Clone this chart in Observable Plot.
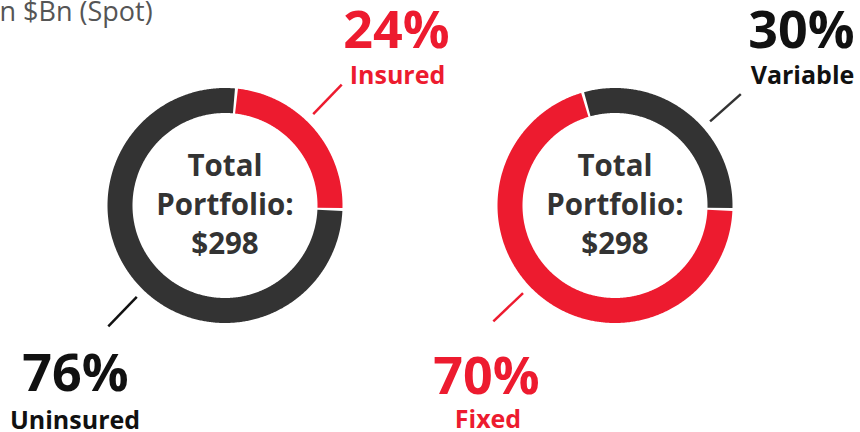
<!DOCTYPE html>
<html>
<head>
<meta charset="utf-8">
<script src="https://cdn.jsdelivr.net/npm/d3@7"></script>
<script src="https://cdn.jsdelivr.net/npm/@observablehq/plot@0.6"></script>
<style>
  html, body { margin: 0; padding: 0; background: #fff; }
  #chart { width: 860px; height: 432px; overflow: hidden; }
</style>
</head>
<body>
<div id="chart"></div>
<script>
// ---------- data ----------
const titleText = "n $Bn (Spot)";
const totalText = ["Total", "Portfolio:", "$298"];
const leftCategories = ["Insured", "Uninsured"];
const leftValues = [24, 76];
const rightCategories = ["Variable", "Fixed"];
const rightValues = [30, 70];

// ---------- layout & style (not data) ----------
const RED = "#ED1B2F", DARK = "#333333", BLACK = "#111111";
const W = 860, H = 432;
const ringMid = 105, ringWidth = 25, padDeg = 0.7;
const donutLayout = [
  {cx: 224.5, cy: 205, start: 5.6, cats: leftCategories, vals: leftValues,
   colors: [RED, DARK], textColors: [RED, BLACK], leaderColors: [RED, BLACK],
   leaderAngles: [44, 224],
   pctPos: [[396, 47], [75, 390]], namePos: [[397, 83], [74.5, 428]]},
  {cx: 614.5, cy: 205, start: -16, cats: rightCategories, vals: rightValues,
   colors: [DARK, RED], textColors: [BLACK, RED], leaderColors: [DARK, RED],
   leaderAngles: [48.5, 226.4],
   pctPos: [[801, 47], [486, 393]], namePos: [[802, 83], [487.5, 427]]}
];
const leaderR = [127, 168];

// ---------- build tables ----------
const rad = d => d * Math.PI / 180;
const arcPts = [], leaders = [], pctLabels = [], nameLabels = [], centers = [];
donutLayout.forEach((d, di) => {
  const total = d3.sum(d.vals);
  let a = d.start;
  d.vals.forEach((v, i) => {
    const span = v / total * 360;
    const a0 = a + padDeg, a1 = a + span - padDeg;
    const n = Math.ceil((a1 - a0) / 0.5);
    for (let k = 0; k <= n; k++) {
      const t = rad(a0 + (a1 - a0) * k / n);
      arcPts.push({seg: `${di}-${i}`, color: d.colors[i],
        x: d.cx + ringMid * Math.sin(t), y: d.cy - ringMid * Math.cos(t)});
    }
    a += span;
    const la = rad(d.leaderAngles[i]);
    leaderR.forEach(r => leaders.push({seg: `${di}-${i}`, color: d.leaderColors[i],
      x: d.cx + r * Math.sin(la), y: d.cy - r * Math.cos(la)}));
    pctLabels.push({x: d.pctPos[i][0], y: d.pctPos[i][1], text: `${v}%`, color: d.textColors[i]});
    nameLabels.push({x: d.namePos[i][0], y: d.namePos[i][1], text: d.cats[i], color: d.textColors[i]});
  });
  centers.push({x: d.cx, y: 253, text: totalText.join("\n")});
});

const font = "'Open Sans', 'DejaVu Sans', sans-serif";
const chart = Plot.plot({
  width: W, height: H, margin: 0,
  x: {domain: [0, W], range: [0, W], axis: null},
  y: {domain: [0, H], range: [0, H], axis: null},
  style: {fontFamily: font, background: "#fff"},
  marks: [
    Plot.line(arcPts, {x: "x", y: "y", z: "seg", stroke: "color", strokeWidth: ringWidth, strokeLinecap: "butt", strokeLinejoin: "round"}),
    Plot.line(leaders, {x: "x", y: "y", z: "seg", stroke: "color", strokeWidth: 2.5, strokeLinecap: "butt"}),
    Plot.text(centers, {x: "x", y: "y", text: "text", lineAnchor: "bottom", lineHeight: 39 / 29.5, fontSize: 29.5, fontWeight: 700, fill: DARK, textAnchor: "middle", fontFamily: font}),
    Plot.text(pctLabels, {x: "x", y: "y", text: "text", lineAnchor: "bottom", fontSize: 52, fontWeight: 700, fill: "color", textAnchor: "middle", fontFamily: font}),
    Plot.text(nameLabels, {x: "x", y: "y", text: "text", lineAnchor: "bottom", fontSize: 25, fontWeight: 700, fill: "color", textAnchor: "middle", fontFamily: font}),
    Plot.text([titleText], {x: () => -1, y: () => 20, text: d => d, lineAnchor: "bottom", fontSize: 27, fontWeight: 400, fill: "#555555", textAnchor: "start", fontFamily: font})
  ]
});
document.getElementById("chart").appendChild(chart);
</script>
</body>
</html>
